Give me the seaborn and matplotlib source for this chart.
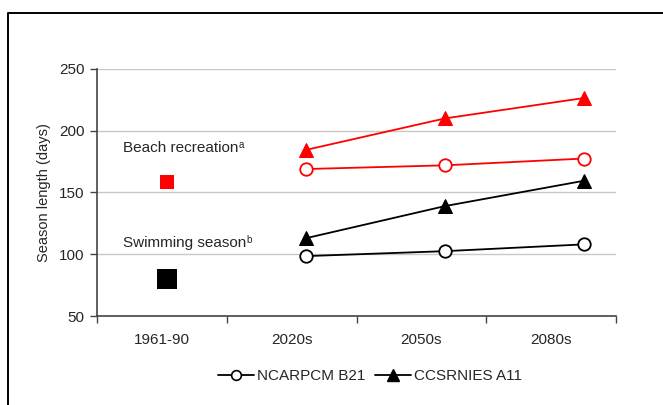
import numpy as np
import pandas as pd
import matplotlib
matplotlib.use("Agg")
import matplotlib.pyplot as plt
import seaborn as sns
from matplotlib.lines import Line2D

# data
periods = ["1961-90", "2020s", "2050s", "2080s"]
beach_base = 158.5
swim_base = 80
beach_ncar = [169, 172, 177.5]
beach_ccsr = [184.5, 210, 226.5]
swim_ncar = [98.5, 102.5, 108]
swim_ccsr = [113, 139, 159.5]
legend_labels = ["NCARPCM B21", "CCSRNIES A11"]

sns.set_theme(style="white")
plt.rcParams["font.family"] = ["Liberation Sans Narrow", "Liberation Sans", "DejaVu Sans"]

fig = plt.figure(figsize=(6.63, 4.05), dpi=100)
ax = fig.add_axes([97 / 663, 1 - 316 / 405, 519 / 663, 247 / 405])

# category bins are [i, i+1]; the markers sit a bit right of the bin centres
# and are spaced slightly wider than the bins (as in the original)
n = len(periods)
pos = 0.54 + 1.071 * np.arange(n)
fut = pos[1:]

# baseline squares
sns.scatterplot(x=[pos[0]], y=[beach_base], marker="s", s=110, color="#ff0000",
                linewidth=0, ax=ax, zorder=4)
sns.scatterplot(x=[pos[0]], y=[swim_base], marker="s", s=200, color="black",
                linewidth=0, ax=ax, zorder=4)

# projections
circ = dict(linewidth=1.3, marker="o", markersize=9, markeredgewidth=1.3,
            markerfacecolor="white", zorder=3)
tri = dict(linewidth=1.3, marker="^", markersize=10, zorder=3)
sns.lineplot(x=fut, y=beach_ncar, color="#ff0000", markeredgecolor="#ff0000", ax=ax, **circ)
sns.lineplot(x=fut, y=beach_ccsr, color="#ff0000", markerfacecolor="#ff0000",
             markeredgecolor="#ff0000", ax=ax, **tri)
sns.lineplot(x=fut, y=swim_ncar, color="black", markeredgecolor="black", ax=ax, **circ)
sns.lineplot(x=fut, y=swim_ccsr, color="black", markerfacecolor="black",
             markeredgecolor="black", ax=ax, **tri)

ax.set_xlim(0, n)
ax.set_ylim(50, 250)
ax.set_yticks([50, 100, 150, 200, 250])
ax.yaxis.grid(True, color="#c8c8c8", linewidth=1)
ax.set_axisbelow(True)

# ticks between categories, labels at centres
ax.set_xticks(np.arange(n + 1), labels=[""] * (n + 1))
ax.set_xticks(np.arange(n) + 0.5, labels=periods, minor=True)
ax.tick_params(axis="x", which="major", direction="out", length=5, width=1,
               color="#444444", bottom=True)
ax.tick_params(axis="x", which="minor", length=0, pad=12, labelsize=11)
ax.tick_params(axis="y", direction="out", length=5, width=1, color="#444444",
               left=True, pad=4, labelsize=11)

for side in ["top", "right"]:
    ax.spines[side].set_visible(False)
for side in ["left", "bottom"]:
    ax.spines[side].set_color("#444444")
    ax.spines[side].set_linewidth(1.2)

ax.set_xlabel("")
ax.set_ylabel("Season length (days)", fontsize=10.5, labelpad=6)

# annotations with superscripts
t1 = ax.text(0.2, 186, "Beach recreation", fontsize=11, va="center", ha="left")
ax.annotate("a", xy=(1.0, 0.75), xycoords=t1, fontsize=7, va="center", ha="left")
t2 = ax.text(0.2, 109, "Swimming season", fontsize=11, va="center", ha="left")
ax.annotate("b", xy=(1.0, 0.75), xycoords=t2, fontsize=7, va="center", ha="left")

# legend
handles = [
    Line2D([], [], color="black", linewidth=1.3, marker="o", markersize=7,
           markerfacecolor="white", markeredgecolor="black", markeredgewidth=1.2),
    Line2D([], [], color="black", linewidth=1.3, marker="^", markersize=8,
           markerfacecolor="black", markeredgecolor="black"),
]
fig.legend(handles, legend_labels, loc="center", bbox_to_anchor=(370 / 663, 1 - 376 / 405),
           ncol=2, frameon=False, fontsize=11, handlelength=2.4, handletextpad=0.2,
           columnspacing=0.6)

# frame of the original figure box
fig.add_artist(Line2D([8 / 663, 8 / 663, 1.0], [0.0, 1 - 13 / 405, 1 - 13 / 405],
                      transform=fig.transFigure, color="black", linewidth=1.4))

fig.savefig("out.png", dpi=100)
